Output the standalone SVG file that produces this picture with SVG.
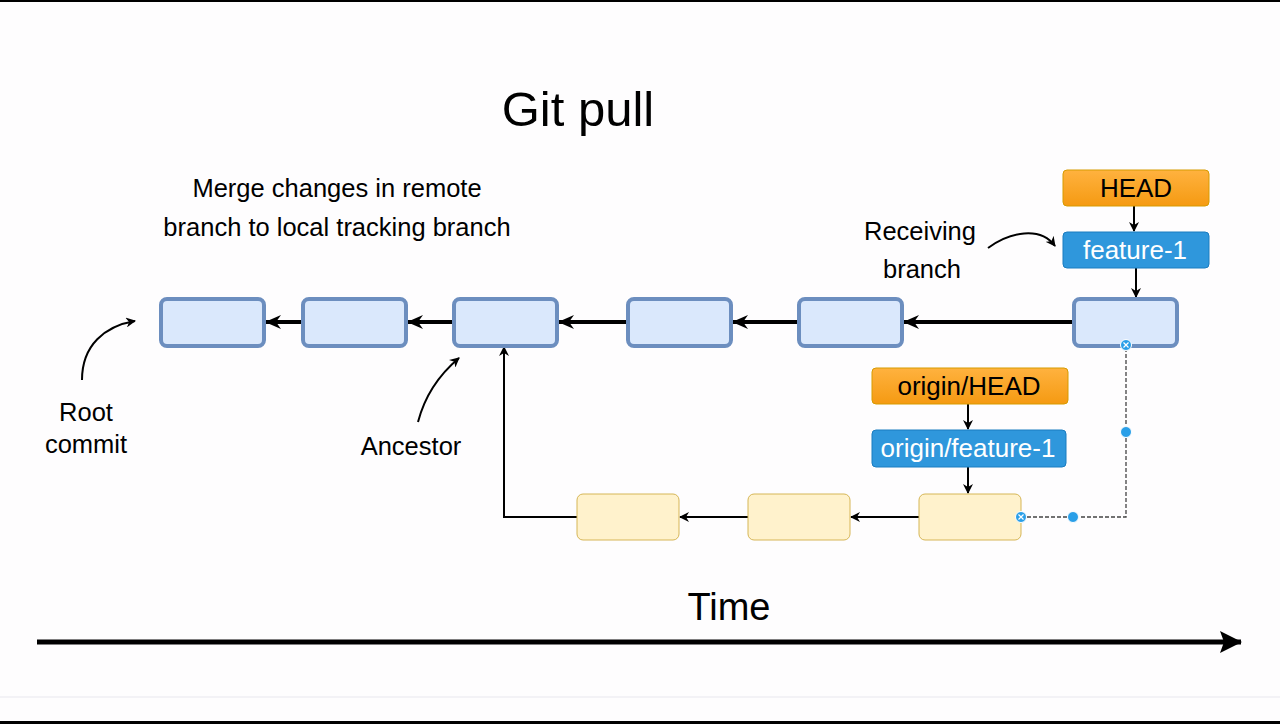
<svg xmlns="http://www.w3.org/2000/svg" width="1280" height="724" viewBox="0 0 1280 724">
<defs>
<linearGradient id="og" x1="0" y1="0" x2="0" y2="1"><stop offset="0" stop-color="#ffb23f"/><stop offset="1" stop-color="#f59a12"/></linearGradient>
<marker id="ah" viewBox="0 0 16 14" markerWidth="16" markerHeight="14" refX="15" refY="7" orient="auto" markerUnits="userSpaceOnUse"><path d="M0,0 L16,7 L0,14 L5,7 z" fill="#000"/></marker>
<marker id="as" viewBox="0 0 10 10" markerWidth="10" markerHeight="10" refX="9" refY="5" orient="auto" markerUnits="userSpaceOnUse"><path d="M0,0 L10,5 L0,10 L3,5 z" fill="#000"/></marker>
<marker id="at" viewBox="0 0 22 22" markerWidth="22" markerHeight="22" refX="21" refY="11" orient="auto" markerUnits="userSpaceOnUse"><path d="M0,0 L22,11 L0,22 L4,11 z" fill="#000"/></marker>
</defs>
<style>
.t{font-family:"Liberation Sans",Arial,sans-serif;fill:#000;text-anchor:middle}
.c{fill:#dae8fc;stroke:#6c8ebf;stroke-width:4}
.y{fill:#fff2cc;stroke:#d6b656;stroke-width:1}
.o{fill:url(#og);stroke:#d79b00;stroke-width:1}
.b{fill:#2f97dc;stroke:#1a7cc0;stroke-width:1}
.lb{font-family:"Liberation Sans",Arial,sans-serif;font-size:26px;text-anchor:middle}
.thick{stroke:#000;stroke-width:4;fill:none}
.thin{stroke:#000;stroke-width:2;fill:none}
.h{fill:#2a9fe8;stroke:#fff;stroke-width:1}
</style>
<rect width="1280" height="724" fill="#fefdfe"/>
<rect x="0" y="0" width="1280" height="2" fill="#000"/>
<rect x="0" y="696" width="1280" height="2" fill="#f3f2f6"/>
<rect x="0" y="721" width="1280" height="3" fill="#000"/>

<text class="t" x="578" y="126" font-size="49">Git pull</text>
<text class="t" x="337" y="197" font-size="25.5">Merge changes in remote</text>
<text class="t" x="337" y="236" font-size="25.5">branch to local tracking branch</text>
<text class="t" x="920" y="240" font-size="25.5">Receiving</text>
<text class="t" x="922" y="278" font-size="25.5">branch</text>
<text class="t" x="86" y="421" font-size="25.5">Root</text>
<text class="t" x="86" y="453" font-size="25.5">commit</text>
<text class="t" x="411" y="455" font-size="25.5">Ancestor</text>
<text class="t" x="729" y="620" font-size="38">Time</text>

<g id="connectors">
<line class="thick" x1="302" y1="322" x2="266" y2="322" marker-end="url(#ah)"/>
<line class="thick" x1="453" y1="322" x2="408" y2="322" marker-end="url(#ah)"/>
<line class="thick" x1="627" y1="322" x2="559" y2="322" marker-end="url(#ah)"/>
<line class="thick" x1="798" y1="322" x2="733" y2="322" marker-end="url(#ah)"/>
<line class="thick" x1="1073" y1="322" x2="904" y2="322" marker-end="url(#ah)"/>
<line class="thin" x1="1134" y1="206" x2="1134" y2="231" marker-end="url(#as)"/>
<line class="thin" x1="1136" y1="268" x2="1136" y2="297" marker-end="url(#as)"/>
<line class="thin" x1="968" y1="404" x2="968" y2="429" marker-end="url(#as)"/>
<line class="thin" x1="968" y1="467" x2="968" y2="493" marker-end="url(#as)"/>
<line class="thin" x1="919" y1="517" x2="851" y2="517" marker-end="url(#as)"/>
<line class="thin" x1="748" y1="517" x2="680" y2="517" marker-end="url(#as)"/>
<polyline class="thin" points="577,517 504,517 504,347" marker-end="url(#as)"/>
<polyline points="1021,517 1126,517 1126,345" fill="none" stroke="#444" stroke-width="1.3" stroke-dasharray="4,2"/>
<path class="thin" d="M82,380 C82,345 105,326 135,321" marker-end="url(#as)"/>
<path class="thin" d="M418,422 C425,395 440,374 459,358" marker-end="url(#as)"/>
<path class="thin" d="M988,248 C1010,232 1040,226 1055,246" marker-end="url(#as)"/>
<line x1="37" y1="642" x2="1241" y2="642" stroke="#000" stroke-width="5" marker-end="url(#at)"/>
</g>

<g id="c1"><rect class="c" x="161" y="299" width="103" height="47" rx="6"/></g>
<g id="c2"><rect class="c" x="303" y="299" width="103" height="47" rx="6"/></g>
<g id="c3"><rect class="c" x="454" y="299" width="103" height="47" rx="6"/></g>
<g id="c4"><rect class="c" x="628" y="299" width="103" height="47" rx="6"/></g>
<g id="c5"><rect class="c" x="799" y="299" width="103" height="47" rx="6"/></g>
<g id="c6"><rect class="c" x="1074" y="299" width="103" height="47" rx="6"/></g>

<g id="y1"><rect class="y" x="577" y="494" width="102" height="46" rx="6"/></g>
<g id="y2"><rect class="y" x="748" y="494" width="102" height="46" rx="6"/></g>
<g id="y3"><rect class="y" x="919" y="494" width="102" height="46" rx="6"/></g>

<g id="head"><rect class="o" x="1063" y="170" width="146" height="36" rx="4"/><text class="lb" x="1136" y="197" fill="#000">HEAD</text></g>
<g id="feature1"><rect class="b" x="1063" y="232" width="146" height="36" rx="4"/><text class="lb" x="1135" y="259" fill="#fff">feature-1</text></g>
<g id="originhead"><rect class="o" x="872" y="368" width="196" height="36" rx="4"/><text class="lb" x="969" y="395" fill="#000">origin/HEAD</text></g>
<g id="originfeature1"><rect class="b" x="872" y="430" width="194" height="37" rx="4"/><text class="lb" x="968" y="457" fill="#fff">origin/feature-1</text></g>

<g id="handles">
<circle class="h" cx="1126" cy="345" r="5.5"/>
<path d="M1123.5,342.5 L1128.5,347.5 M1128.5,342.5 L1123.5,347.5" stroke="#fff" stroke-width="1.2"/>
<circle class="h" cx="1126" cy="432" r="5.5"/>
<circle class="h" cx="1073" cy="517" r="5.5"/>
<circle class="h" cx="1021" cy="517" r="5.5"/>
<path d="M1018.5,514.5 L1023.5,519.5 M1023.5,514.5 L1018.5,519.5" stroke="#fff" stroke-width="1.2"/>
</g>
</svg>
